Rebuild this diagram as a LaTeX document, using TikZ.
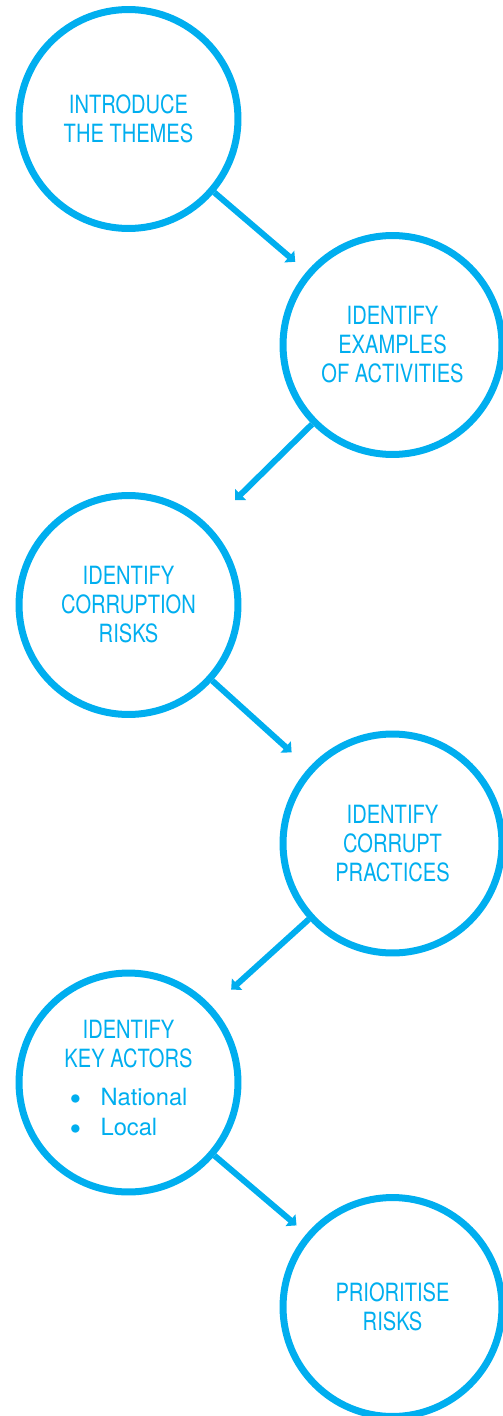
\documentclass[tikz,border=0pt]{standalone}
\usepackage{fontspec}
\setmainfont[FakeStretch=0.8]{TeX Gyre Heros}
\newfontfamily\listfont{TeX Gyre Heros}
\usepackage{xcolor}
\usepackage{tikz}
\usetikzlibrary{arrows.meta,calc,positioning,shapes}
\definecolor{tiblue}{RGB}{0,174,239}
\tikzset{%
	stage/.style = {draw=tiblue, circle, line width=0.14cm, minimum size=4.38cm, inner sep=0pt, text=tiblue, align=center, font=\fontsize{14.3pt}{16.5pt}\selectfont},
	arrow/.style = {draw=tiblue, line width=0.12cm, -{Triangle[width=0.3cm,length=0.16cm]}},
}
\newcommand{\bigdot}{\raisebox{-3pt}[4pt][0pt]{\fontsize{19pt}{17pt}\selectfont\textbullet}}

\begin{document}
\begin{tikzpicture}[x=0.02cm,y=-0.02cm]
	\useasboundingbox (0,0) rectangle (503,1416);
	
	\node[stage] (intro) at (128.5,119) {INTRODUCE\\THE THEMES};
	\node[stage] (examples) at (392.5,345) {IDENTIFY\\EXAMPLES\\OF ACTIVITIES};
	\node[stage] (risks) at (128.5,605) {IDENTIFY\\CORRUPTION\\RISKS};
	\node[stage] (practices) at (392.5,843.5) {IDENTIFY\\CORRUPT\\PRACTICES};
	\node[stage] (actors) at (128.5,1082.5) {IDENTIFY\\KEY ACTORS\\[5pt]{\listfont\fontsize{13.5pt}{17.1pt}\selectfont\begin{tabular}[t]{@{}l@{\hspace{11pt}}l@{}}\bigdot & National\\ \bigdot & Local\end{tabular}}};
	\node[stage] (prior) at (392.5,1307) {PRIORITISE\\RISKS};
	
	\draw[arrow,shorten >=0.3cm] (intro) -- (examples);
	\draw[arrow,shorten >=0.73cm] (examples) -- (risks);
	\draw[arrow,shorten >=0.46cm] (risks) -- (practices);
	\draw[arrow,shorten >=0.51cm] (practices) -- (actors);
	\draw[arrow,shorten >=0.26cm] (actors) -- (prior);
	
\end{tikzpicture}
\end{document}
